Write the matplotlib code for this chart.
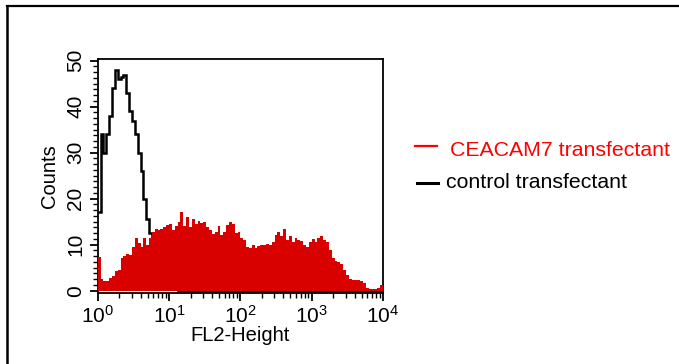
import numpy as np
import matplotlib
matplotlib.use('Agg')
import matplotlib.pyplot as plt
from matplotlib.ticker import FixedLocator, MultipleLocator, NullFormatter
from matplotlib.lines import Line2D

plt.rcParams['font.family'] = 'Liberation Sans'
plt.rcParams['mathtext.fontset'] = 'custom'
plt.rcParams['mathtext.rm'] = 'Liberation Sans'
plt.rcParams['mathtext.it'] = 'Liberation Sans'
plt.rcParams['mathtext.default'] = 'regular'

# 100 channels over 4 decades (10^0 .. 10^4)
N_BINS = 100

ceacam7_counts = [
    7.4, 2.5, 2.0, 2.0, 2.7, 3.2, 4.2, 4.5, 7.0, 7.5,
    8.0, 7.8, 9.6, 11.4, 10.3, 9.5, 11.4, 10.0, 11.5, 12.8,
    13.5, 13.2, 13.5, 13.8, 14.2, 14.6, 13.2, 14.0, 15.0, 17.0,
    14.0, 16.0, 13.8, 15.5, 14.5, 15.2, 14.8, 15.0, 13.8, 13.2,
    12.3, 12.8, 14.0, 12.2, 12.8, 14.2, 15.0, 14.6, 12.5, 12.8,
    11.5, 11.0, 9.5, 9.2, 10.0, 9.3, 9.8, 10.0, 10.0, 10.2,
    10.0, 10.5, 12.0, 12.8, 11.8, 13.5, 11.0, 11.8, 10.5, 11.5,
    11.0, 10.8, 10.0, 9.5, 10.6, 11.2, 10.5, 11.5, 11.8, 11.0,
    10.5, 8.8, 7.0, 6.5, 6.3, 5.8, 4.5, 3.5, 2.6, 2.3,
    2.3, 2.3, 2.0, 1.6, 0.5, 0.3, 0.3, 0.3, 0.6, 1.2,
]

control_counts = [
    17.0, 34.0, 30.0, 34.0, 38.0, 44.0, 48.0, 46.0, 46.5, 47.0,
    43.0, 39.0, 37.0, 34.0, 30.0, 26.0, 20.0, 15.5, 12.5, 11.0,
    8.0, 6.0, 4.0, 3.0, 2.0, 1.0, 1.0, 0.5, 0.0, 0.0,
] + [0.0] * 70

edges = np.logspace(0, 4, N_BINS + 1)

fig = plt.figure(figsize=(6.79, 3.64), dpi=100)
ax = fig.add_axes([0.1439, 0.196, 0.4202, 0.641])

ax.stairs(control_counts, edges, color='black', linewidth=1.8, baseline=None, zorder=2)
ax.stairs(ceacam7_counts, edges, fill=True, color='#d90000', linewidth=0, zorder=3)

ax.set_xscale('log')
ax.set_xlim(1, 1e4)
ax.set_ylim(-0.43, 50.3)

ax.xaxis.set_major_locator(FixedLocator([1, 10, 100, 1000, 10000]))
ax.set_xticklabels(['$10^{0}$', '$10^{1}$', '$10^{2}$', '$10^{3}$', '$10^{4}$'])
minor = [m * 10 ** d for d in range(4) for m in range(2, 10)]
ax.xaxis.set_minor_locator(FixedLocator(minor))
ax.xaxis.set_minor_formatter(NullFormatter())

ax.yaxis.set_major_locator(FixedLocator([0, 10, 20, 30, 40, 50]))
ax.yaxis.set_minor_locator(MultipleLocator(1.25))
for lab in ax.get_yticklabels():
    lab.set_rotation(90)
    lab.set_va('center')

ax.tick_params(which='major', direction='out', length=6, width=1.3, labelsize=15, pad=3)
ax.tick_params(which='minor', direction='out', length=3.5, width=1.0)
for sp in ax.spines.values():
    sp.set_linewidth(1.3)

ax.set_xlabel('FL2-Height', fontsize=14.5, labelpad=-1)
ax.set_ylabel('Counts', fontsize=14.5, labelpad=5)

# legend drawn by hand at the right
fig.add_artist(Line2D([415 / 679, 437 / 679], [1 - 146 / 364, 1 - 146 / 364], color='red', linewidth=1.6))
fig.text(450 / 679, 1 - 150 / 364, 'CEACAM7 transfectant', color='red', fontsize=15.3, va='center')
fig.add_artist(Line2D([417 / 679, 438 / 679], [1 - 183 / 364, 1 - 183 / 364], color='black', linewidth=2.2))
fig.text(446 / 679, 1 - 182 / 364, 'control transfectant', color='black', fontsize=15.3, va='center')

# outer frame (top and left edges)
fig.add_artist(Line2D([6.5 / 679, 1], [1 - 5.5 / 364, 1 - 5.5 / 364], color='black', linewidth=1.6))
fig.add_artist(Line2D([7 / 679, 7 / 679], [0, 1 - 5.5 / 364], color='black', linewidth=1.8))

fig.savefig('out.png', dpi=100)
